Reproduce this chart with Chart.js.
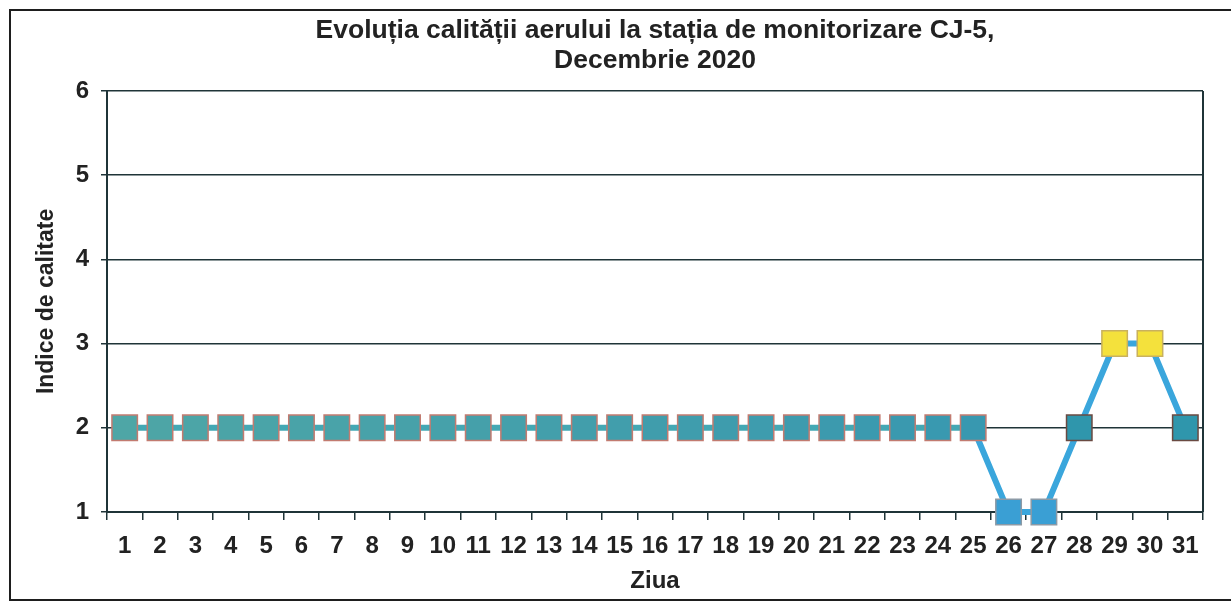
<!DOCTYPE html>
<html>
<head>
<meta charset="utf-8">
<script src="https://cdn.jsdelivr.net/npm/chart.js@4"></script>
<style>
  html, body { margin: 0; padding: 0; background: #fff; }
  #wrap { position: relative; width: 1231px; height: 602px; }
</style>
</head>
<body>
<div id="wrap"><canvas id="aqChart" width="1231" height="602"></canvas></div>
<script>
// Data
const days = ['1','2','3','4','5','6','7','8','9','10','11','12','13','14','15','16',
  '17','18','19','20','21','22','23','24','25','26','27','28','29','30','31'];
const indexValues = [2,2,2,2,2,2,2,2,2,2,2,2,2,2,2,2,2,2,2,2,2,2,2,2,2,1,1,2,3,3,2];
const yTicks = [1, 2, 3, 4, 5, 6];

// marker colours: index 2 teal fading to blue, index 1 blue, index 3 yellow
function markerFill(i, v) {
  if (v === 3) return '#f4e13c';
  if (v === 1) return '#3a9fd4';
  if (i > 26) return '#2f96ac';
  const t = i / 24;
  const r = Math.round(78 - 22 * t), g = Math.round(166 - 14 * t), b = Math.round(166 + 10 * t);
  return 'rgb(' + r + ',' + g + ',' + b + ')';
}
function markerEdge(i, v) {
  if (v === 3) return '#c9b15e';
  if (v === 1) return '#8c9aa6';
  if (i > 26) return '#6a4a42';
  return '#c27b70';
}

const ink = '#222';
const axisInk = '#1f3438';
const frame = {
  id: 'frame',
  afterDraw(chart) {
    const ctx = chart.ctx, a = chart.chartArea;
    ctx.save();
    ctx.strokeStyle = '#1e1e1e';
    ctx.lineWidth = 2;
    ctx.strokeRect(10, 10, 1230, 590);
    ctx.strokeStyle = axisInk;
    ctx.beginPath();
    ctx.moveTo(a.right, a.top);
    ctx.lineTo(a.right, a.bottom);
    ctx.stroke();
    ctx.restore();
  }
};

new Chart(document.getElementById('aqChart').getContext('2d'), {
  type: 'line',
  data: {
    labels: days,
    datasets: [{
      data: indexValues,
      clip: false,
      borderWidth: 6,
      borderColor: '#43a8b4',
      segment: {
        borderColor: c => c.p0DataIndex >= 24 ? '#3aa6dc' : '#43a8b4'
      },
      tension: 0,
      pointStyle: 'rect',
      pointRadius: 18,
      pointBorderWidth: 1.5,
      pointBackgroundColor: indexValues.map((v, i) => markerFill(i, v)),
      pointBorderColor: indexValues.map((v, i) => markerEdge(i, v))
    }]
  },
  options: {
    responsive: false,
    animation: false,
    layout: { padding: { top: 0, right: 28, left: 0, bottom: 0 } },
    plugins: {
      legend: { display: false },
      tooltip: { enabled: false },
      title: {
        display: true,
        fullSize: false,
        text: ['Evoluția calității aerului la stația de monitorizare CJ-5,', 'Decembrie 2020'],
        color: ink,
        font: { family: 'Liberation Sans', size: 26.5, weight: 'bold', lineHeight: 1.13 },
        padding: { top: 16, bottom: 15 }
      }
    },
    scales: {
      x: {
        offset: true,
        afterFit: axis => { axis.height = 90; },
        grid: { offset: true, drawOnChartArea: false, drawTicks: true, tickLength: 8, color: axisInk, lineWidth: 1.5 },
        border: { color: axisInk, width: 2 },
        ticks: { color: ink, font: { family: 'Liberation Sans', size: 24, weight: 'bold' }, padding: 12, maxRotation: 0, autoSkip: false },
        title: { display: true, text: 'Ziua', color: ink, font: { family: 'Liberation Sans', size: 24, weight: 'bold' }, padding: { top: 0, bottom: 6 } }
      },
      y: {
        min: yTicks[0],
        max: yTicks[yTicks.length - 1],
        afterFit: axis => { axis.width = 107; },
        afterBuildTicks: axis => { axis.ticks = yTicks.map(v => ({ value: v })); },
        grid: { color: axisInk, lineWidth: 1.5, tickLength: 6 },
        border: { color: axisInk, width: 2 },
        ticks: { color: ink, font: { family: 'Liberation Sans', size: 24, weight: 'bold' }, padding: 12 },
        title: { display: true, text: 'Indice de calitate', color: ink, font: { family: 'Liberation Sans', size: 23, weight: 'bold' }, padding: { top: 33, bottom: 0 } }
      }
    }
  },
  plugins: [frame]
});
</script>
</body>
</html>
